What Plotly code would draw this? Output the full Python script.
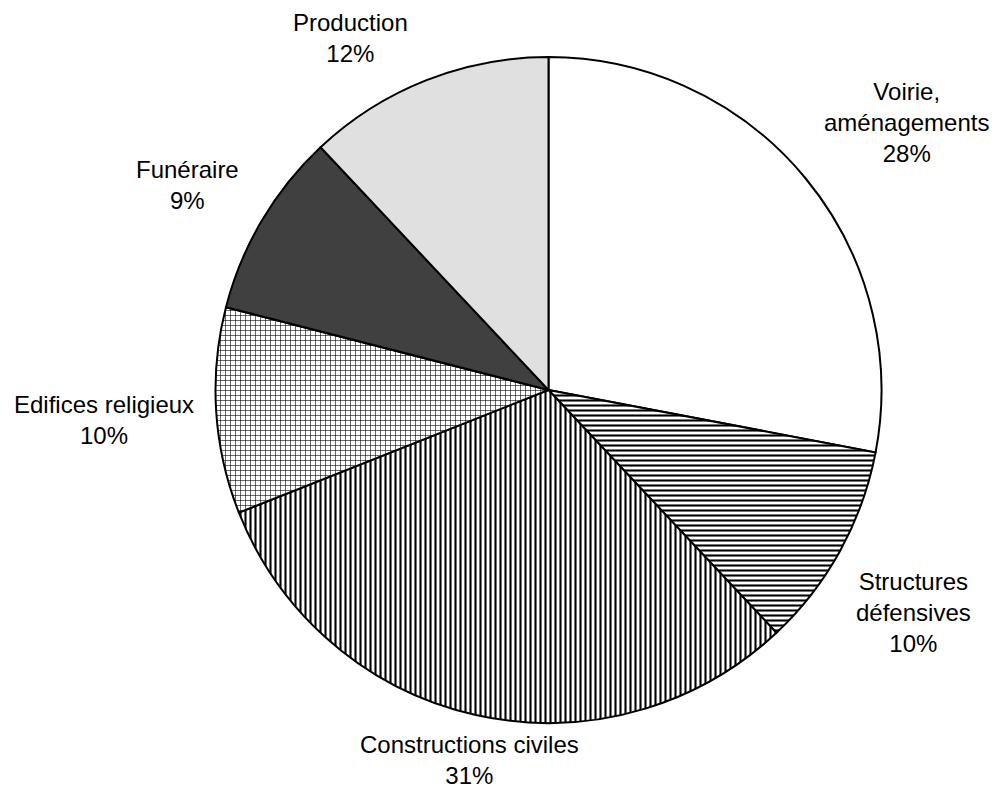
import math
import plotly.graph_objects as go

categories = ["Voirie,<br>aménagements", "Structures<br>défensives", "Constructions civiles",
              "Edifices religieux", "Funéraire", "Production"]
values = [28, 10, 31, 10, 9, 12]
fill_colors = ["#ffffff", "#ffffff", "#ffffff", "#ffffff", "#404040", "#e0e0e0"]
pattern_shapes = ["", "-", "|", "+", "", ""]
pattern_solidity = [0.3, 0.42, 0.42, 0.22, 0.3, 0.3]

# label placement (layout only): distance from centre in px and angular nudge in degrees
label_radius = [447, 428, 378, 446, 415, 404]
label_angle_nudge = [2.8, 2.6, -0.5, -0.3, -1.0, -7.8]

W, H = 999, 790
ML, MR, MT, MB = 207, 125, 49, 75
PW, PH = W - ML - MR, H - MT - MB

fig = go.Figure(go.Pie(
    labels=categories,
    values=values,
    sort=False,
    direction="clockwise",
    rotation=0,
    marker=dict(
        colors=fill_colors,
        line=dict(color="#000000", width=2),
        pattern=dict(shape=pattern_shapes, fgcolor="#000000", size=5,
                     solidity=pattern_solidity, fillmode="replace"),
    ),
    textinfo="none",
    showlegend=False,
    hoverinfo="none",
))

total = sum(values)
cum = 0
annotations = []
for lab, v, rad, nudge in zip(categories, values, label_radius, label_angle_nudge):
    mid = (cum + v / 2) / total * 360 + nudge
    cum += v
    a = math.radians(mid)
    x = 0.5 + rad * math.sin(a) / PW
    y = 0.5 + rad * math.cos(a) / PH
    pct = round(v / total * 100)
    annotations.append(dict(
        x=x, y=y, xref="paper", yref="paper",
        text=f"{lab}<br>{pct}%", showarrow=False,
        xanchor="center", yanchor="middle", align="center",
        font=dict(family="Liberation Sans, Arial", size=24, color="#000000"),
    ))

fig.update_layout(
    width=W, height=H,
    margin=dict(l=ML, r=MR, t=MT, b=MB),
    paper_bgcolor="white",
    plot_bgcolor="white",
    annotations=annotations,
)

fig.write_html("out.html")
